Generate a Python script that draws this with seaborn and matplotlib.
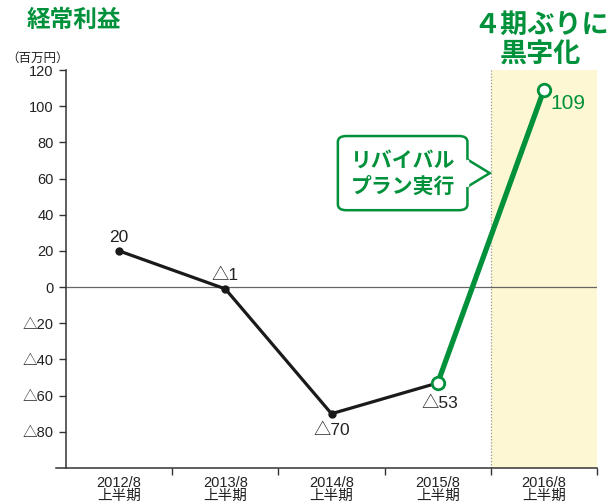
import matplotlib
matplotlib.use("Agg")
import matplotlib.pyplot as plt
import seaborn as sns
import pandas as pd
from matplotlib.patches import FancyBboxPatch, Polygon

# ---- data ----
periods = ["2012/8\n上半期", "2013/8\n上半期", "2014/8\n上半期", "2015/8\n上半期", "2016/8\n上半期"]
profit = [20, -1, -70, -53, 109]
value_labels = ["20", "△1", "△70", "△53", "109"]
yticks = [-80, -60, -40, -20, 0, 20, 40, 60, 80, 100, 120]

GREEN = "#00913a"
YELLOW = "#fdf7d3"

sns.set_theme(style="white")
plt.rcParams["font.family"] = ["Liberation Sans", "Noto Sans CJK JP", "DejaVu Sans"]

df = pd.DataFrame({"x": range(len(periods)), "profit": profit})
df_black = df.iloc[:4]
df_green = df.iloc[3:]

fig = plt.figure(figsize=(6.09, 5.03), dpi=100)
ax = fig.add_axes([66 / 609, 1 - 468 / 503, (597 - 66) / 609, (468 - 70) / 503])

ax.set_xlim(-0.5, 4.5)
ax.set_ylim(-100, 120)

# highlight band for latest period
ax.axvspan(3.5, 4.5, color=YELLOW, zorder=0, lw=0)
ax.axvline(3.5, color="#999999", ls=(0, (1, 1.5)), lw=0.9, zorder=1)
ax.axhline(0, color="#666666", lw=0.9, zorder=1)

sns.lineplot(data=df_black, x="x", y="profit", ax=ax, color="#1a1a1a", lw=2.3,
             marker="o", markersize=6, markeredgewidth=0, zorder=3)
sns.lineplot(data=df_green, x="x", y="profit", ax=ax, color=GREEN, lw=3.8,
             marker="o", markersize=9, markerfacecolor="white",
             markeredgecolor=GREEN, markeredgewidth=2, zorder=4)

# value labels
offsets = [(0, 10), (0, 9.5), (0, -12), (1.5, -14.5), (17, -10)]
for i, (lab, off) in enumerate(zip(value_labels, offsets)):
    col = GREEN if i == 4 else "#222222"
    ax.annotate(lab, (i, profit[i]), xytext=off, textcoords="offset points",
                ha="center", va="center", fontsize=15 if i == 4 else 12.5,
                color=col, zorder=5)

# axes styling
ax.set_yticks(yticks)
ax.set_yticklabels([("△" + str(-v)) if v < 0 else str(v) for v in yticks])
ax.set_xticks(range(len(periods)))
ax.set_xticklabels(periods)
ax.set_xticks([0.5, 1.5, 2.5, 3.5, 4.5], minor=True)
ax.tick_params(axis="x", which="major", length=0, pad=6, labelsize=10.5, labelcolor="#222222")
ax.tick_params(axis="x", which="minor", length=5, width=1, color="#333333", direction="out", bottom=True)
ax.tick_params(axis="y", length=5, width=1, color="#333333", direction="out", left=True,
               labelsize=10.5, labelcolor="#222222", pad=4)
for t in ax.get_xticklabels():
    t.set_linespacing(0.9)
ax.set_xlabel("")
ax.set_ylabel("")
for s in ["top", "right"]:
    ax.spines[s].set_visible(False)
for s in ["left", "bottom"]:
    ax.spines[s].set_color("#333333")
    ax.spines[s].set_linewidth(1.1)
ax.spines["bottom"].set_bounds(-0.59, 4.5)

# callout box
box = FancyBboxPatch((2.06, 42.5), 1.22, 41, boxstyle="round,pad=0,rounding_size=0.08",
                     mutation_aspect=40, fc="white", ec=GREEN, lw=1.8, zorder=5)
ax.add_patch(box)
tail = Polygon([(3.28, 70.5), (3.49, 63), (3.28, 55.5)], closed=False, fc="white",
               ec=GREEN, lw=1.8, zorder=6, joinstyle="miter")
ax.add_patch(tail)
ax.plot([3.28, 3.28], [69.5, 56.5], color="white", lw=2.5, zorder=6.5)
ax.text(2.67, 63, "リバイバル\nプラン実行", ha="center", va="center", fontsize=15,
        fontweight="bold", color=GREEN, linespacing=1.3, zorder=7,
        family=["Noto Sans CJK JP"])

# titles
fig.text(27 / 609, 1 - 20 / 503, "経常利益", ha="left", va="center", fontsize=17,
         fontweight="bold", color=GREEN, family=["Noto Sans CJK JP"])
fig.text(6 / 609, 1 - 58 / 503, "（百万円）", ha="left", va="center", fontsize=9,
         color="#222222", family=["Noto Sans CJK JP"])
fig.text(541 / 609, 1 - 40 / 503, "４期ぶりに\n黒字化", ha="center", va="center",
         fontsize=19.5, fontweight="bold", color=GREEN, linespacing=1.1,
         family=["Noto Sans CJK JP"])

fig.savefig("out.png", dpi=100)
